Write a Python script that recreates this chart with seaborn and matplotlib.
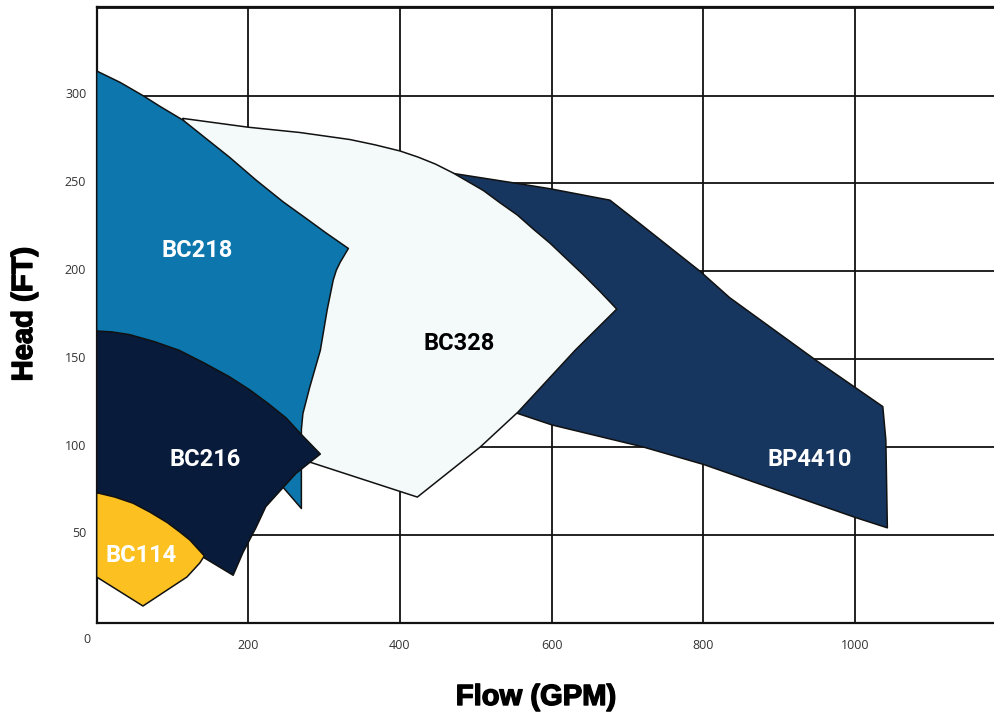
import matplotlib
matplotlib.use("Agg")
import matplotlib.pyplot as plt
import matplotlib.patheffects as pe
from matplotlib.transforms import ScaledTranslation
import seaborn as sns
import pandas as pd

# ---------------- data (Flow GPM, Head FT) ----------------
names = ["BP4410", "BC328", "BC218", "BC216", "BC114"]

bp4410_x = [466, 555, 598, 677, 717, 796, 835, 950, 1037, 1041, 1043, 1000, 801, 721, 601, 556, 506, 466]
bp4410_y = [256, 250, 247, 240.5, 227, 200, 185, 149, 123, 104, 54, 60, 90, 100, 112.5, 119, 138, 212]

bc328_x = [114, 200, 268, 334, 367, 400, 424, 447, 470, 490, 510, 532, 555, 576, 598, 620, 642, 664, 686,
           631, 556, 506, 423, 284, 268, 255, 136]
bc328_y = [287, 282, 279, 275, 272, 268.5, 265, 261, 256, 251, 246, 239, 232, 224, 216, 207, 198, 188.5, 178.5,
           155, 120, 100, 71.5, 91, 93, 127, 240]

bc218_x = [0, 31, 61, 83, 114, 143, 175, 210, 246, 275, 302, 332, 321, 316, 312, 304, 295, 281, 272, 270,
           270, 246, 0]
bc218_y = [314, 307.5, 300, 294, 286, 276, 265, 252, 239.5, 230.5, 222, 213, 205, 200.5, 195, 178, 155, 134,
           119, 110, 65, 77, 127]

bc216_x = [0, 20, 43, 76, 109, 141, 175, 202, 227, 250, 268, 295, 263, 246, 223, 210, 193, 180, 130, 0]
bc216_y = [166, 165.5, 164, 160, 155, 148, 140, 132.5, 124.5, 116.5, 108, 96, 85, 77, 66, 54, 40, 27, 40, 58]

bc114_x = [0, 24, 48, 70, 93, 110, 123, 142, 136, 119, 61, 0]
bc114_y = [74, 71.5, 68, 63, 57, 51.5, 47, 38, 34, 26, 9.5, 26]

label_x = [941, 478, 132, 143, 59]
label_y = [93, 159, 212, 93, 38.5]
label_colors = ["white", "black", "white", "white", "white"]

x_ticks = [200, 400, 600, 800, 1000]
y_ticks = [50, 100, 150, 200, 250, 300]

# ---------------- styling ----------------
fills = {"BP4410": "#17365f", "BC328": "#f4f9fa", "BC218": "#0d77ad",
         "BC216": "#081b3a", "BC114": "#fcc121"}

sns.set_theme(style="white")
plt.rcParams["font.family"] = ["Open Sans", "DejaVu Sans"]

fig = plt.figure(figsize=(9.95, 7.15), dpi=100)
ax = fig.add_axes([96.7 / 995, 1 - 622.7 / 715, 1 - 96.7 / 995, (622.7 - 6.7) / 715])
ax.set_xlim(0, 1185)
ax.set_ylim(0, 350.6)

# grid
ax.set_xticks([0] + x_ticks)
ax.set_xticklabels([""] + [str(v) for v in x_ticks])
ax.set_yticks([0] + y_ticks + [350])
ax.set_yticklabels([""] + [str(v) for v in y_ticks] + [""])
ax.grid(True, color="#111111", lw=1.3, zorder=0)
ax.set_axisbelow(True)
ax.tick_params(axis="both", length=0, labelsize=9, labelcolor="#333333")
ax.tick_params(axis="x", pad=11.5)
ax.tick_params(axis="y", pad=7.5)
for lab in ax.get_yticklabels():
    lab.set_transform(lab.get_transform() + ScaledTranslation(0, 2.5 / 100, fig.dpi_scale_trans))
for s in ["left", "top", "bottom"]:
    ax.spines[s].set_visible(True)
    ax.spines[s].set_color("#111111")
    ax.spines[s].set_linewidth(1.6)
ax.spines["right"].set_visible(False)

xs = [bp4410_x, bc328_x, bc218_x, bc216_x, bc114_x]
ys = [bp4410_y, bc328_y, bc218_y, bc216_y, bc114_y]
for i, (n, px, py) in enumerate(zip(names, xs, ys)):
    z = 2 + i
    ax.fill(px, py, color=fills[n], lw=0, zorder=z)
    df = pd.DataFrame({"x": px + [px[0]], "y": py + [py[0]]})
    sns.lineplot(data=df, x="x", y="y", sort=False, estimator=None, color="#111111",
                 lw=1.1, ax=ax, zorder=z + 0.5, legend=False)

for n, lx, ly, c in zip(names, label_x, label_y, label_colors):
    ax.text(lx, ly, n, color=c, fontsize=17, fontweight="bold", family=["Roboto", "DejaVu Sans"],
            ha="center", va="center", zorder=20)

ax.set_xlabel("")
ax.set_ylabel("")
ax.text(-0.011, -0.027, "0", transform=ax.transAxes, fontsize=9, color="#333333",
        ha="center", va="center")

pe_stroke = [pe.withStroke(linewidth=1.0, foreground="black")]
fig.text(536 / 995, 1 - 697 / 715, "Flow (GPM)", fontsize=21, fontweight="bold",
         family=["Liberation Sans", "DejaVu Sans"], ha="center", va="center",
         color="black", path_effects=pe_stroke)
fig.text(24 / 995, 1 - 314 / 715, "Head (FT)", fontsize=21, fontweight="bold", rotation=90,
         family=["Liberation Sans", "DejaVu Sans"], ha="center", va="center",
         color="black", path_effects=pe_stroke)

fig.savefig("out.png", dpi=100)
